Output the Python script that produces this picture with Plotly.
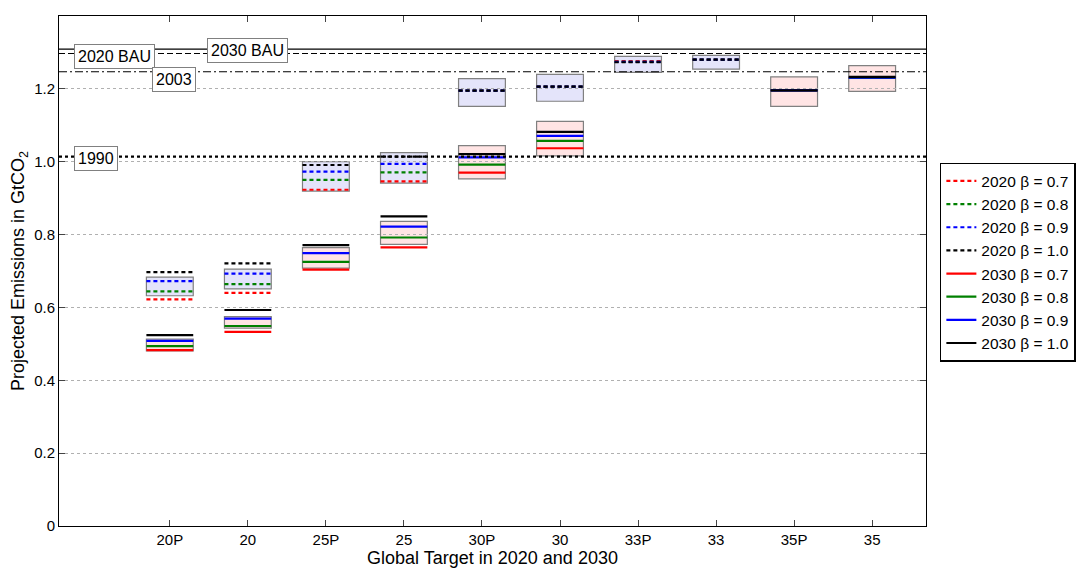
import plotly.graph_objects as go

categories = ["20P", "20", "25P", "25", "30P", "30", "33P", "33", "35P", "35"]
betas = ["0.7", "0.8", "0.9", "1.0"]
colors = ["red", "green", "blue", "black"]

# projected emissions per beta (0.7, 0.8, 0.9, 1.0), None where not shown
e2020 = {
    "0.7": [0.622, 0.640, 0.923, 0.946, 1.195, 1.206, 1.276, 1.280, None, None],
    "0.8": [0.644, 0.664, 0.950, 0.971, 1.195, 1.206, 1.274, 1.280, None, None],
    "0.9": [0.672, 0.693, 0.973, 0.994, 1.195, 1.206, 1.274, 1.280, None, None],
    "1.0": [0.697, 0.721, 0.991, 1.014, 1.195, 1.206, 1.273, 1.280, None, None],
}
e2030 = {
    "0.7": [0.483, 0.533, 0.704, 0.765, 0.970, 1.037, None, None, 1.196, 1.230],
    "0.8": [0.494, 0.549, 0.725, 0.792, 0.992, 1.057, None, None, 1.196, 1.230],
    "0.9": [0.508, 0.569, 0.749, 0.822, 1.012, 1.071, None, None, 1.196, 1.231],
    "1.0": [0.524, 0.593, 0.771, 0.850, 1.021, 1.082, None, None, 1.196, 1.233],
}
# shaded ranges (low, high)
box2020_lo = [0.632, 0.651, 0.919, 0.941, 1.152, 1.166, 1.245, 1.254, None, None]
box2020_hi = [0.683, 0.705, 1.000, 1.025, 1.228, 1.240, 1.289, 1.292, None, None]
box2030_lo = [0.481, 0.543, 0.708, 0.773, 0.953, 1.016, None, None, 1.152, 1.193]
box2030_hi = [0.513, 0.575, 0.764, 0.836, 1.044, 1.111, None, None, 1.233, 1.264]

ref_names = ["2020 BAU", "2030 BAU", "2003", "1990"]
ref_values = [1.309, 1.297, 1.247, 1.014]
ref_dash = ["solid", "6px,3px", "8px,3px,2px,3px", "dot"]

HALF = 0.3

fig = go.Figure()

for lo, hi, fill in [(box2020_lo, box2020_hi, "#e4e4fa"), (box2030_lo, box2030_hi, "#ffe4e4")]:
    for i in range(len(categories)):
        if lo[i] is None:
            continue
        fig.add_shape(type="rect", x0=i - HALF, x1=i + HALF, y0=lo[i], y1=hi[i],
                      fillcolor=fill, line=dict(color="#808080", width=1.2), layer="below")

for v, d in zip(ref_values, ref_dash):
    fig.add_shape(type="line", xref="paper", x0=0, x1=1, y0=v, y1=v,
                  line=dict(color="black", width=1.2 if d != "dot" else 2.2, dash=d))


def segs(vals):
    xs, ys = [], []
    for i, v in enumerate(vals):
        if v is None:
            continue
        xs += [i - HALF, i + HALF, None]
        ys += [v, v, None]
    return xs, ys


for year, data, dash in [("2020", e2020, "4px,3px"), ("2030", e2030, "solid")]:
    for b, c in zip(betas, colors):
        xs, ys = segs(data[b])
        fig.add_trace(go.Scatter(x=xs, y=ys, mode="lines", name=f"{year} β = {b}",
                                 line=dict(color=c, width=2.2, dash=dash)))

# label boxes (paper coords)
label_x = [0.017, 0.171, 0.107, 0.017]
label_y = [0.92, 0.932, 0.876, 0.72]
for name, lx, ly in zip(ref_names, label_x, label_y):
    fig.add_annotation(text=name, xref="paper", yref="paper", x=lx, y=ly,
                       xanchor="left", yanchor="middle", showarrow=False,
                       bgcolor="white", bordercolor="#808080", borderwidth=1, borderpad=3,
                       font=dict(size=16, color="black"))

fig.update_layout(
    width=1085, height=572,
    margin=dict(l=51, r=167, t=8, b=54),
    plot_bgcolor="white", paper_bgcolor="white",
    font=dict(family="Liberation Sans, Arial, sans-serif", size=15, color="black"),
    legend=dict(x=1.016, y=0.712, xanchor="left", yanchor="top", bordercolor="black",
                borderwidth=1.5, font=dict(size=15.5), tracegroupgap=0, itemwidth=30),
    xaxis=dict(range=[-1.42, 9.69], tickvals=list(range(len(categories))), ticktext=categories,
               ticks="inside", ticklen=6, mirror="ticks", showline=True, linecolor="black",
               showgrid=False, zeroline=False, automargin=False,
               title=dict(text="Global Target in 2020 and 2030", standoff=2)),
    yaxis=dict(range=[0, 1.4], tickvals=[0, 0.2, 0.4, 0.6, 0.8, 1.0, 1.2, 1.4],
               ticktext=["0", "0.2", "0.4", "0.6", "0.8", "1.0", "1.2", "1.4"],
               ticks="inside", ticklen=6, mirror="ticks", showline=True, linecolor="black",
               showgrid=True, gridcolor="#b0b0b0", griddash="dot", zeroline=False, automargin=False,
               title=dict(text="Projected Emissions in GtCO<sub>2</sub>", standoff=8)),
)

fig.write_html("out.html")
